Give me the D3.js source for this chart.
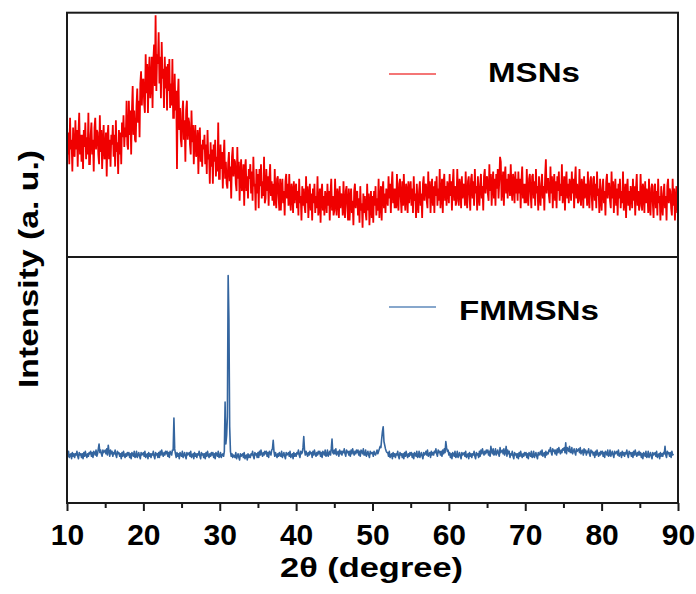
<!DOCTYPE html>
<html>
<head>
<meta charset="utf-8">
<script src="https://cdn.jsdelivr.net/npm/d3@7"></script>
<style>
  html, body { margin: 0; padding: 0; background: #fff; }
  svg { display: block; }
  text { font-family: "Liberation Sans", Arial, Helvetica, sans-serif; font-weight: bold; fill: #000; }
</style>
</head>
<body>
<svg id="chart" width="696" height="594"></svg>
<script>
// ---- data ----
const twoThetaStart = 10;      // degrees
const twoThetaStep = 0.1;      // sampling step of both patterns
const xMajorTicks = [10, 20, 30, 40, 50, 60, 70, 80, 90];
const xMinorTicks = [15, 25, 35, 45, 55, 65, 75, 85];
const seriesNames = ["MSNs", "FMMSNs"];

// MSNs intensity (a.u., 0-100 panel scale), 2θ = 10.0 ... 90.0
const msns = [
55,42,51,38,57,44,48,35,53,43,
41,56,44,52,37,51,59,42,50,39,
50,36,52,45,55,40,49,42,59,38,
38,50,55,42,48,35,53,57,44,52,
51,42,38,58,43,52,36,47,54,40,
42,51,33,49,54,40,48,37,50,46,
54,41,50,37,56,43,47,34,52,42,
51,38,55,49,58,45,53,49,64,46,
44,64,50,60,42,60,70,50,60,48,
47,62,69,55,64,49,71,76,62,72,
73,63,59,83,67,79,59,74,82,65,
71,82,61,80,87,70,99,68,83,79,
92,71,82,65,88,73,77,61,82,69,
78,60,79,68,81,61,71,62,81,57,
57,75,60,68,36,65,73,52,61,48,
45,59,64,48,56,39,60,64,48,57,
55,46,42,60,47,54,38,49,54,41,
44,52,34,49,53,39,46,37,48,44,
50,38,46,34,52,40,42,30,47,37,
44,30,46,39,48,33,41,35,55,32,
32,46,36,43,28,41,48,32,39,30,
28,38,43,31,37,24,41,45,33,40,
39,30,27,45,32,39,23,34,40,27,
30,38,21,36,40,27,33,24,36,32,
38,26,35,23,41,29,30,19,36,26,
34,20,36,29,38,24,31,25,41,22,
24,36,27,33,21,32,38,25,31,23,
30,21,36,24,20,32,33,25,19,32,
19,28,32,22,27,17,31,34,24,30,
21,34,24,19,30,27,18,31,22,28,
30,20,27,17,32,22,25,15,29,21,
28,21,18,33,22,29,16,25,30,19,
26,15,28,22,30,18,25,20,33,17,
21,28,14,26,30,19,25,17,27,24,
18,30,21,27,15,26,32,19,25,17,
19,32,22,17,28,25,16,29,20,26,
25,17,31,20,16,27,29,21,15,28,
15,24,28,18,23,13,27,30,20,26,
27,17,24,14,29,19,22,12,26,18,
25,18,15,30,19,26,13,22,27,16,
25,14,27,21,29,17,24,19,32,16,
22,29,15,27,31,20,26,18,28,25,
21,33,24,30,18,29,35,22,28,20,
28,20,34,23,19,30,32,24,18,31,
21,34,24,19,30,27,18,31,22,28,
31,21,28,18,33,23,26,16,30,22,
18,27,31,21,26,16,30,33,23,29,
30,23,20,35,24,31,18,27,32,21,
29,18,31,25,33,21,28,23,36,20,
25,32,18,30,34,23,29,21,31,28,
22,34,25,31,19,30,36,23,29,21,
23,36,26,21,32,29,20,33,24,30,
29,21,35,24,20,31,33,25,19,32,
34,24,31,21,36,26,29,19,33,25,
21,30,34,24,29,19,33,36,26,32,
33,26,23,38,27,34,21,30,35,24,
32,21,34,28,36,24,31,41,39,23,
28,35,21,33,37,26,32,24,34,31,
25,38,28,23,34,31,22,35,26,32,
23,35,26,32,20,31,37,24,30,22,
30,22,36,25,21,32,34,26,20,33,
34,24,31,21,36,26,29,19,33,25,
21,30,34,24,29,19,33,40,26,32,
32,25,22,37,26,33,20,29,34,23,
31,20,33,27,35,23,30,25,38,22,
26,33,19,31,35,24,30,22,32,29,
23,35,26,32,20,31,37,24,30,22,
23,36,26,21,32,29,20,33,24,30,
29,21,35,24,20,31,33,25,19,32,
33,23,30,20,35,25,28,18,32,24,
19,28,32,22,27,17,31,34,24,30,
30,23,20,35,24,31,18,27,32,21,
28,17,30,24,32,20,27,22,35,19,
23,30,16,28,32,21,27,19,29,26,
20,32,23,29,17,28,34,21,27,19,
21,34,24,19,30,27,18,31,22,28,
26,18,32,21,17,28,30,22,16,29,
30,20,27,17,32,22,25,15,29,21,
17,26,30,20,25,15,29,32,22,28,
27,20,17,32,21,28,15,24,29,18,
23
];

// FMMSNs intensity (a.u., 0-200 panel scale), 2θ = 10.0 ... 89.4
const fmmsns = [
41,38,42,37,39,40,36,41,38,40,
37,40,39,42,38,36,41,39,40,37,
40,36,41,38,42,39,37,40,38,41,
40,42,38,41,37,42,41,39,43,38,
40,44,48,41,43,40,38,43,41,42,
43,40,44,39,47,42,38,43,40,42,
38,41,40,43,39,37,42,40,41,38,
40,36,41,38,42,39,37,40,38,41,
39,41,37,40,36,41,40,38,42,37,
38,42,37,39,41,38,36,41,39,40,
41,38,42,37,39,40,36,41,38,40,
37,40,39,42,38,36,41,39,40,37,
41,37,42,39,43,40,38,41,39,42,
40,42,38,41,37,42,41,39,43,43,
69,44,40,37,41,38,40,36,41,39,
38,42,37,39,41,38,36,41,39,40,
41,38,42,37,39,40,36,41,38,40,
37,40,39,42,38,36,41,39,40,37,
40,36,41,38,42,39,37,40,38,41,
39,41,37,40,36,41,40,38,42,37,
38,41,37,39,40,38,42,82,48,55,
70,185,149,62,42,38,40,37,39,38,
37,41,36,38,40,37,35,40,38,39,
40,37,41,36,38,39,35,40,37,39,
37,40,39,42,38,36,41,39,40,37,
41,37,42,39,43,40,38,41,39,42,
40,42,38,41,37,42,41,39,43,44,
51,42,38,41,39,37,40,38,41,39,
38,42,37,39,41,38,36,41,39,40,
41,38,42,37,39,40,36,41,38,40,
38,41,40,43,39,37,42,40,41,45,
54,43,39,42,40,38,41,39,42,40,
41,37,42,39,43,40,38,41,39,42,
40,42,38,41,37,42,41,39,43,38,
39,43,38,40,42,39,44,52,41,40,
43,40,44,39,41,42,38,43,40,42,
39,42,41,44,40,38,43,41,42,39,
42,38,43,40,44,41,39,42,40,43,
41,43,39,42,38,43,42,40,44,39,
39,43,38,40,42,39,37,42,40,41,
41,38,42,40,39,41,43,40,42,44,
46,45,52,58,62,50,47,44,42,41,
41,38,42,37,39,40,36,41,38,40,
37,40,39,42,38,36,41,39,40,37,
40,36,41,38,42,39,37,40,38,41,
39,41,37,40,36,41,40,38,42,37,
38,42,37,39,41,38,36,41,39,40,
42,39,43,38,40,41,37,42,39,41,
39,42,41,44,40,38,43,41,42,39,
42,38,43,40,44,41,50,45,42,43,
39,41,37,40,36,41,40,38,42,37,
38,42,37,39,41,38,36,41,39,40,
41,38,42,37,39,40,36,41,38,40,
37,40,39,42,38,36,41,39,40,37,
42,38,43,40,44,41,39,42,40,43,
41,43,39,42,38,46,42,40,44,39,
40,44,39,41,43,40,38,45,41,42,
43,40,44,39,41,46,38,43,40,42,
37,40,39,42,38,36,41,39,40,37,
40,36,41,38,42,39,37,40,38,41,
39,41,37,40,36,41,40,38,42,37,
38,42,37,39,41,38,36,41,39,40,
42,39,43,38,40,41,37,42,39,41,
40,43,42,45,41,39,44,42,43,40,
43,39,44,41,45,42,40,43,41,44,
43,45,41,49,40,45,44,42,46,41,
41,45,40,42,44,41,39,44,42,43,
44,41,45,40,42,43,39,44,41,43,
39,42,41,44,40,38,43,41,42,39,
41,37,42,39,43,40,38,41,39,42,
40,42,38,41,37,42,41,39,43,38,
39,43,38,40,42,39,37,42,40,41,
42,39,43,38,40,41,37,42,39,41,
38,41,40,43,39,37,42,40,41,38,
41,37,42,39,43,40,38,41,39,42,
39,41,37,40,36,41,40,38,42,37,
38,42,37,39,41,38,36,41,39,40,
41,38,42,37,39,40,36,41,38,40,
38,41,40,46,39,37,42,40,41,38,
41,37,42,39,40
];

(function () {
  // ---- layout ----
  const svg = d3.select("#chart");
  const pLeft = 67, pRight = 678, pTop = 12.7, pMid = 257, pBottom = 503;

  const x = d3.scaleLinear().domain([10, 90]).range([pLeft, pRight]);
  const yTop = d3.scaleLinear().domain([0, 100]).range([pMid, pTop]);
  const yBot = d3.scaleLinear().domain([0, 200]).range([pBottom, pMid]);

  const twoTheta = i => twoThetaStart + i * twoThetaStep;

  // series lines
  svg.append("path")
    .datum(msns)
    .attr("fill", "none")
    .attr("stroke", "#f00000")
    .attr("stroke-width", 1.8)
    .attr("stroke-linejoin", "miter")
    .attr("stroke-miterlimit", 2)
    .attr("d", d3.line().x((d, i) => x(twoTheta(i))).y(d => yTop(d)));

  svg.append("path")
    .datum(fmmsns)
    .attr("fill", "none")
    .attr("stroke", "#34659f")
    .attr("stroke-width", 1.6)
    .attr("stroke-linejoin", "round")
    .attr("d", d3.line().x((d, i) => x(twoTheta(i))).y(d => yBot(d)));

  // frames
  svg.append("rect").attr("x", pLeft).attr("y", pTop).attr("width", pRight - pLeft).attr("height", pMid - pTop)
    .attr("fill", "none").attr("stroke", "#1a1a1a").attr("stroke-width", 2);
  svg.append("rect").attr("x", pLeft).attr("y", pMid).attr("width", pRight - pLeft).attr("height", pBottom - pMid)
    .attr("fill", "none").attr("stroke", "#1a1a1a").attr("stroke-width", 2);

  // x axis (bottom)
  const gMinor = svg.append("g").attr("transform", `translate(0,${pBottom})`)
    .call(d3.axisBottom(x).tickValues(xMinorTicks).tickSize(5).tickFormat(""));
  const gMajor = svg.append("g").attr("transform", `translate(0,${pBottom})`)
    .call(d3.axisBottom(x).tickValues(xMajorTicks).tickSize(8).tickFormat(d3.format("d")));
  [gMinor, gMajor].forEach(g => {
    g.select(".domain").remove();
    g.selectAll(".tick line").attr("stroke", "#1a1a1a").attr("stroke-width", 2);
  });
  gMajor.selectAll(".tick text")
    .attr("y", 42).attr("dy", 0)
    .style("font-size", "30px")
    .style("font-family", "'Liberation Sans', Arial, sans-serif")
    .style("font-weight", "bold")
    .attr("fill", "#000");

  // axis titles
  svg.append("text")
    .attr("x", 280).attr("y", 577)
    .attr("textLength", 183).attr("lengthAdjust", "spacingAndGlyphs")
    .style("font-size", "28px")
    .text("2θ (degree)");

  svg.append("text")
    .attr("transform", "translate(38,388) rotate(-90)")
    .attr("x", 0).attr("y", 0)
    .attr("textLength", 238).attr("lengthAdjust", "spacingAndGlyphs")
    .style("font-size", "28px")
    .text("Intensity (a. u.)");

  // legends
  const legend = [
    { name: seriesNames[0], color: "#f04848", lineY: 74, textX: 488, textY: 82, textLen: 92 },
    { name: seriesNames[1], color: "#5f8abb", lineY: 307, textX: 459, textY: 320, textLen: 140 }
  ];
  legend.forEach(l => {
    svg.append("line").attr("x1", 389).attr("x2", 436).attr("y1", l.lineY).attr("y2", l.lineY)
      .attr("stroke", l.color).attr("stroke-width", 1.3);
    svg.append("text").attr("x", l.textX).attr("y", l.textY)
      .attr("textLength", l.textLen).attr("lengthAdjust", "spacingAndGlyphs")
      .style("font-size", "28px").text(l.name);
  });
})();
</script>
</body>
</html>
